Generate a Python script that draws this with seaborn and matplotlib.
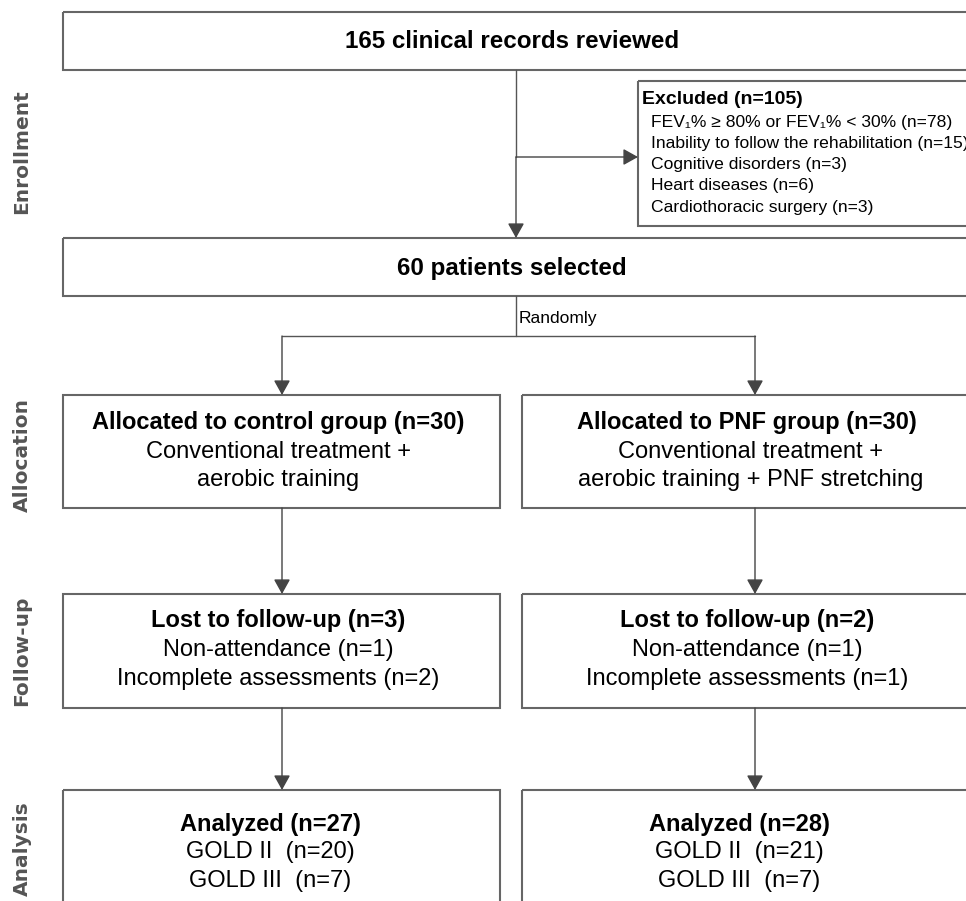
import matplotlib.pyplot as plt
import seaborn as sns
from matplotlib.patches import Rectangle

# counts
reviewed = 165
excluded_reasons = [
    "FEV\u2081% \u2265 80% or FEV\u2081% < 30%",
    "Inability to follow the rehabilitation",
    "Cognitive disorders",
    "Heart diseases",
    "Cardiothoracic surgery",
]
excluded_counts = [78, 15, 3, 6, 3]
selected = 60
group_names = ["control", "PNF"]
group_treatment = [
    ["Conventional treatment +", "aerobic training"],
    ["Conventional treatment +", "aerobic training + PNF stretching"],
]
allocated = [30, 30]
lost_nonattendance = [1, 1]
lost_incomplete = [2, 1]
gold_ii = [20, 21]
gold_iii = [7, 7]
stages = ["Enrollment", "Allocation", "Follow-up", "Analysis"]

sns.set_theme(style="white")
plt.rcParams["font.family"] = ["Liberation Sans", "DejaVu Sans"]
plt.rcParams["text.color"] = "black"

EDGE = "#666666"
LINE = "#555555"
fig = plt.figure(figsize=(9.66, 9.01), dpi=100)
ax = fig.add_axes([0, 0, 1, 1])
ax.set_xlim(0, 966)
ax.set_ylim(901, 0)
ax.axis("off")


def box(x0, y0, x1, y1):
    ax.add_patch(Rectangle((x0, y0), x1 - x0, y1 - y0, fill=False,
                           edgecolor=EDGE, lw=1.5))


def arrow(x0, y0, x1, y1):
    ax.annotate("", xy=(x1, y1), xytext=(x0, y0),
                arrowprops=dict(arrowstyle="-|>,head_length=0.45,head_width=0.25",
                                color="#444444", lw=1.0, mutation_scale=20,
                                shrinkA=0, shrinkB=0))


def line(xs, ys):
    ax.plot(xs, ys, color=LINE, lw=1.0)


BIG = 17
# enrollment
box(63, 12, 980, 70)
ax.text(512, 41, f"{reviewed} clinical records reviewed", ha="center",
        va="center", fontsize=17.4, fontweight="bold")
line([516, 516], [70, 157])
arrow(516, 157, 516, 238)
arrow(516, 157, 638, 157)
box(638, 81, 980, 226)
ax.text(642, 99, f"Excluded (n={sum(excluded_counts)})", ha="left",
        va="center", fontsize=14, fontweight="bold")
for i, (reason, n) in enumerate(zip(excluded_reasons, excluded_counts)):
    ax.text(651, 122 + i * 21.3, f"{reason} (n={n})", ha="left",
            va="center", fontsize=12.6)

box(63, 238, 980, 296)
ax.text(512, 268, f"{selected} patients selected", ha="center",
        va="center", fontsize=17.4, fontweight="bold")
line([516, 516], [296, 336])
ax.text(519, 318, "Randomly", ha="left", va="center", fontsize=12.5)

# allocation / follow-up / analysis columns
col_x = [(63, 500), (522, 980)]
centers = [282, 755]
text_x = [278, 747]
line([centers[0], centers[1]], [336, 336])
for i, name in enumerate(group_names):
    x0, x1 = col_x[i]
    cx = centers[i]
    tx = text_x[i]
    arrow(cx, 336, cx, 395)
    box(x0, 395, x1, 508)
    ax.text(tx, 423, f"Allocated to {name} group (n={allocated[i]})",
            ha="center", va="center", fontsize=BIG, fontweight="bold")
    for j, t in enumerate(group_treatment[i]):
        ax.text(tx + 4 * i, 452 + j * 28, t, ha="center", va="center",
                fontsize=BIG)

    arrow(cx, 508, cx, 594)
    box(x0, 594, x1, 708)
    lost = lost_nonattendance[i] + lost_incomplete[i]
    ax.text(tx, 621, f"Lost to follow-up (n={lost})", ha="center",
            va="center", fontsize=BIG, fontweight="bold")
    ax.text(tx, 650, f"Non-attendance (n={lost_nonattendance[i]})",
            ha="center", va="center", fontsize=BIG)
    ax.text(tx, 679, f"Incomplete assessments (n={lost_incomplete[i]})",
            ha="center", va="center", fontsize=BIG)

    arrow(cx, 708, cx, 790)
    box(x0, 790, x1, 920)
    ax.text(tx - 8, 824, f"Analyzed (n={gold_ii[i] + gold_iii[i]})",
            ha="center", va="center", fontsize=BIG, fontweight="bold")
    ax.text(tx - 8, 852, f"GOLD II  (n={gold_ii[i]})", ha="center",
            va="center", fontsize=BIG)
    ax.text(tx - 8, 881, f"GOLD III  (n={gold_iii[i]})", ha="center",
            va="center", fontsize=BIG)

# stage labels on the left
stage_y = [152, 455, 651, 849]
for s, y in zip(stages, stage_y):
    ax.text(22, y, s, rotation=90, ha="center", va="center", fontsize=14.5,
            fontweight="bold", color="#555555", family="DejaVu Sans")

fig.savefig("out.png", dpi=100)
